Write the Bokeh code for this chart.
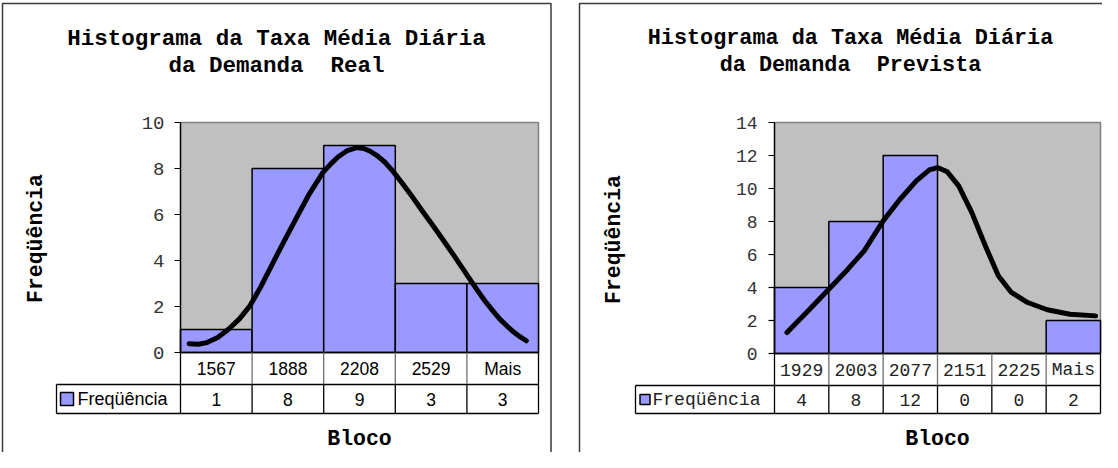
import math
from bokeh.plotting import figure
from bokeh.layouts import row
from bokeh.models import Range1d
from bokeh.core.properties import value
from bokeh.embed import file_html
from bokeh.resources import INLINE

# ---------------- data ----------------
real_bins = ["1567", "1888", "2208", "2529", "Mais"]
real_freq = [1, 8, 9, 3, 3]
real_yticks = [0, 2, 4, 6, 8, 10]
real_curve_x = [0.12, 0.25, 0.37, 0.52, 0.67, 0.82, 0.97, 1.12, 1.27, 1.44, 1.61, 1.80,
                1.99, 2.10, 2.20, 2.33, 2.46, 2.56, 2.65, 2.75, 2.86, 2.98, 3.10, 3.23,
                3.36, 3.53, 3.70, 3.86, 4.01, 4.13, 4.25, 4.36, 4.46, 4.56, 4.65, 4.74, 4.83]
real_curve_y = [0.38, 0.36, 0.43, 0.65, 1.01, 1.45, 2.03, 2.85, 3.77, 4.80, 5.80, 6.90,
                7.83, 8.20, 8.50, 8.78, 8.91, 8.87, 8.75, 8.55, 8.26, 7.83, 7.35, 6.80,
                6.23, 5.50, 4.75, 4.03, 3.33, 2.78, 2.25, 1.82, 1.45, 1.15, 0.90, 0.69, 0.51]

prev_bins = ["1929", "2003", "2077", "2151", "2225", "Mais"]
prev_freq = [4, 8, 12, 0, 0, 2]
prev_yticks = [0, 2, 4, 6, 8, 10, 12, 14]
prev_curve_x = [0.23, 0.62, 1.00, 1.35, 1.65, 2.00, 2.31, 2.61, 2.85, 3.00, 3.18, 3.39,
                3.63, 3.88, 4.12, 4.36, 4.66, 5.02, 5.44, 5.91]
prev_curve_y = [1.27, 2.59, 3.90, 5.11, 6.22, 8.04, 9.35, 10.46, 11.13, 11.27, 11.01, 10.16,
                8.55, 6.53, 4.71, 3.70, 3.09, 2.65, 2.38, 2.28]

MONO = "Liberation Mono"
SANS = "Liberation Sans"
BAR_COLOR = "#9999FF"
PLOT_BG = "#C0C0C0"


def panel(W, H, bins, freq, ticks, ymax, cx, cy, g):
    n = len(bins)
    plot_l, plot_r, plot_t, zero = g["plot"]
    cw = (plot_r - plot_l) / n
    upp = (zero - plot_t) / ymax
    fx = lambda px: (px - plot_l) / cw
    fy = lambda py: (zero - py) / upp

    p = figure(width=W, height=H, x_range=Range1d(fx(0), fx(W)),
               y_range=Range1d(fy(H), fy(0)), x_axis_location=None,
               y_axis_location=None, output_backend="svg",
               toolbar_location=None, min_border=0)
    p.grid.visible = False
    p.outline_line_color = None
    p.background_fill_color = "white"
    p.border_fill_color = "white"

    # panel border
    bl, bt, br = g["border"]
    if br is None:
        p.line([fx(bl), fx(bl), fx(W + 20)], [fy(H + 20), fy(bt), fy(bt)],
               line_color="#3a3a3a", line_width=1.5)
    else:
        p.line([fx(bl), fx(bl), fx(br), fx(br)], [fy(H + 20), fy(bt), fy(bt), fy(H + 20)],
               line_color="#3a3a3a", line_width=1.5)

    # plot area
    p.quad(left=[0], right=[n], bottom=[0], top=[ymax], fill_color=PLOT_BG,
           line_color=None)
    p.line([0, n, n], [ymax, ymax, 0], line_color="#808080", line_width=1.5)

    # bars
    centers = [i + 0.5 for i in range(n)]
    p.vbar(x=centers, top=freq, bottom=0, width=1, fill_color=BAR_COLOR,
           line_color="black", line_width=1.5)

    # y axis
    p.line([0, 0], [0, ymax], line_color="black", line_width=1.5)
    tl = fx(plot_l - 6)
    p.segment(x0=[tl] * len(ticks), x1=[0] * len(ticks), y0=ticks, y1=ticks,
              line_color="black", line_width=1.2)
    p.text(x=[fx(g["tick_right"])] * len(ticks), y=ticks, text=[str(t) for t in ticks],
           text_font=value(MONO), text_font_size=g["tick_size"], text_color="#333333",
           text_align="right", text_baseline="middle")

    # table
    cat_b = fy(g["cat_bottom"])
    dat_b = fy(g["data_bottom"])
    leg_l = fx(g["legend_left"])
    p.segment(x0=[0, leg_l, leg_l], x1=[n, n, n], y0=[0, cat_b, dat_b],
              y1=[0, cat_b, dat_b], line_color="black", line_width=1.3)
    p.segment(x0=list(range(1, n)), x1=list(range(1, n)), y0=[0] * (n - 1),
              y1=[cat_b] * (n - 1), line_color="#707070", line_width=1.3)
    p.segment(x0=[0, n], x1=[0, n], y0=[0, 0], y1=[dat_b, dat_b],
              line_color="black", line_width=1.3)
    p.segment(x0=list(range(1, n)) + [leg_l], x1=list(range(1, n)) + [leg_l],
              y0=[cat_b] * n, y1=[dat_b] * n, line_color="black", line_width=1.3)

    cat_mid = (0 + cat_b) / 2
    dat_mid = (cat_b + dat_b) / 2
    p.text(x=centers, y=[cat_mid] * n, text=bins, text_font=value(g["cat_font"]),
           text_font_size=g["cat_size"], text_color=g["cat_color"],
           text_align="center", text_baseline="middle")
    p.text(x=centers, y=[dat_mid] * n, text=[str(v) for v in freq],
           text_font=value(g["cat_font"]), text_font_size=g["cat_size"],
           text_color=g["cat_color"], text_align="center", text_baseline="middle")
    # legend key
    p.scatter(x=[fx(g["box_x"])], y=[dat_mid], marker="square", size=g["box_size"],
              fill_color=BAR_COLOR, line_color="black", line_width=1.5)
    p.text(x=[fx(g["leg_text_x"])], y=[dat_mid], text=["Freqüência"],
           text_font=value(g["cat_font"]), text_font_size=g["leg_size"],
           text_color=g["cat_color"], text_align="left", text_baseline="middle")

    # fitted curve
    p.line(cx, cy, line_color="black", line_width=5, line_join="round",
           line_cap="round")

    # titles
    t1, t2 = g["title"]
    p.text(x=[fx(g["title_x"])] * 2, y=[fy(g["title_y"][0]), fy(g["title_y"][1])],
           text=[t1, t2], text_font=value(MONO), text_font_style="bold",
           text_font_size=g["title_size"], text_color="black",
           text_align="center", text_baseline="alphabetic")
    p.text(x=[fx(g["ytitle"][0])], y=[fy(g["ytitle"][1])], text=["Freqüência"],
           angle=math.pi / 2, text_font=value(MONO), text_font_style="bold",
           text_font_size=g["axis_size"], text_color="black",
           text_align="center", text_baseline="middle")
    p.text(x=[n / 2], y=[fy(g["xtitle_y"])], text=["Bloco"], text_font=value(MONO),
           text_font_style="bold", text_font_size=g["axis_size"], text_color="black",
           text_align="center", text_baseline="alphabetic")
    return p


H = 452
left_geo = dict(plot=(180, 538, 122, 352), border=(2, 3, 550.5),
                cat_bottom=384, data_bottom=413, legend_left=56,
                tick_right=164, tick_size="19px",
                cat_font=SANS, cat_size="17.5px", cat_color="black",
                leg_size="18px", box_x=66.5, box_size=13, leg_text_x=77,
                title=("Histograma da Taxa Média Diária", "da Demanda\u00a0\u00a0Real"),
                title_x=276, title_y=(38, 65), title_size="22.5px",
                ytitle=(35.5, 238), xtitle_y=438, axis_size="21.5px")
right_geo = dict(plot=(222, 548, 122, 353), border=(27, 3, None),
                 cat_bottom=385, data_bottom=413, legend_left=83,
                 tick_right=205, tick_size="18px",
                 cat_font=MONO, cat_size="18px", cat_color="#222222",
                 leg_size="18px", box_x=92.5, box_size=10, leg_text_x=100,
                 title=("Histograma da Taxa Média Diária", "da Demanda\u00a0\u00a0Prevista"),
                 title_x=298, title_y=(38, 65), title_size="21.8px",
                 ytitle=(61, 239), xtitle_y=438, axis_size="21.5px")

p1 = panel(552, H, real_bins, real_freq, real_yticks, 10, real_curve_x, real_curve_y, left_geo)
p2 = panel(550, H, prev_bins, prev_freq, prev_yticks, 14, prev_curve_x, prev_curve_y, right_geo)

layout = row(p1, p2)
open("out.html", "w").write(file_html(layout, INLINE))
